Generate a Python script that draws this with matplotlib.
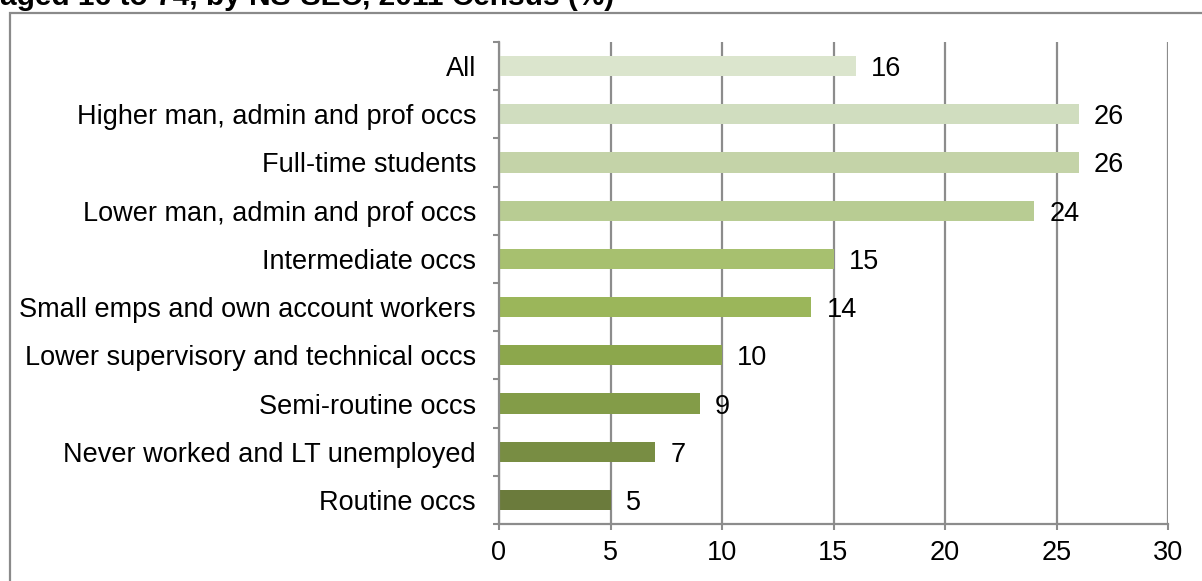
import matplotlib
matplotlib.use("Agg")
import matplotlib.pyplot as plt
from matplotlib.patches import Rectangle
from matplotlib.ticker import FixedLocator

categories = [
    "All",
    "Higher man, admin and prof occs",
    "Full-time students",
    "Lower man, admin and prof occs",
    "Intermediate occs",
    "Small emps and own account workers",
    "Lower supervisory and technical occs",
    "Semi-routine occs",
    "Never worked and LT unemployed",
    "Routine occs",
]
values = [16, 26, 26, 24, 15, 14, 10, 9, 7, 5]
colors = ["#dbe5cd", "#d0ddbf", "#c4d3a8", "#b8cc93", "#a7c06f",
          "#9bb65a", "#8ca74c", "#839c48", "#788d43", "#6b7b3c"]
xticks = [0, 5, 10, 15, 20, 25, 30]
title = "aged 16 to 74, by NS-SEC, 2011 Census (%)"

plt.rcParams['font.family'] = ['Liberation Sans', 'DejaVu Sans']

fig = plt.figure(figsize=(12.02, 5.81), dpi=100)
W, H = 1202, 581

# outer frame, partly cut off at right and bottom
fig.patches.append(Rectangle((10 / W, -0.05), 1.1, 1 - 13 / H + 0.05,
                             transform=fig.transFigure, fill=False,
                             edgecolor="#8a8a8a", linewidth=1.6))
# title, cut off at the top as in the source
fig.text(0.0, 1 - 5 / H, title, fontsize=21.5, fontweight="bold",
         ha="left", va="baseline")

ax = fig.add_axes([499 / W, 1 - 524 / H, 669 / W, 482 / H])
y = list(range(len(categories)))
ax.barh(y, values, height=0.42, color=colors, zorder=2)
ax.set_ylim(len(categories) - 0.5, -0.5)
ax.set_xlim(0, 30)
ax.set_xticks(xticks)
ax.set_yticks(y)
ax.set_yticklabels(categories)
ax.yaxis.set_minor_locator(FixedLocator([i - 0.5 for i in range(len(categories) + 1)]))

for i, v in enumerate(values):
    ax.annotate(str(v), (v, i), xytext=(11, 0), textcoords="offset points",
                ha="left", va="center_baseline", fontsize=19.5, zorder=3)

ax.grid(axis="x", color="#8c8c8c", linewidth=1.6, zorder=1)
for s in ["top", "right"]:
    ax.spines[s].set_visible(False)
for s in ["left", "bottom"]:
    ax.spines[s].set_color("#8c8c8c")
    ax.spines[s].set_linewidth(1.6)
ax.tick_params(axis="y", which="major", length=0, pad=16.5, labelsize=19.5)
ax.tick_params(axis="y", which="minor", length=4.5, width=1.5, color="#8c8c8c")
ax.tick_params(axis="x", length=4.5, width=1.5, color="#8c8c8c", pad=7, labelsize=19.5)

fig.savefig("out.png", dpi=100)
